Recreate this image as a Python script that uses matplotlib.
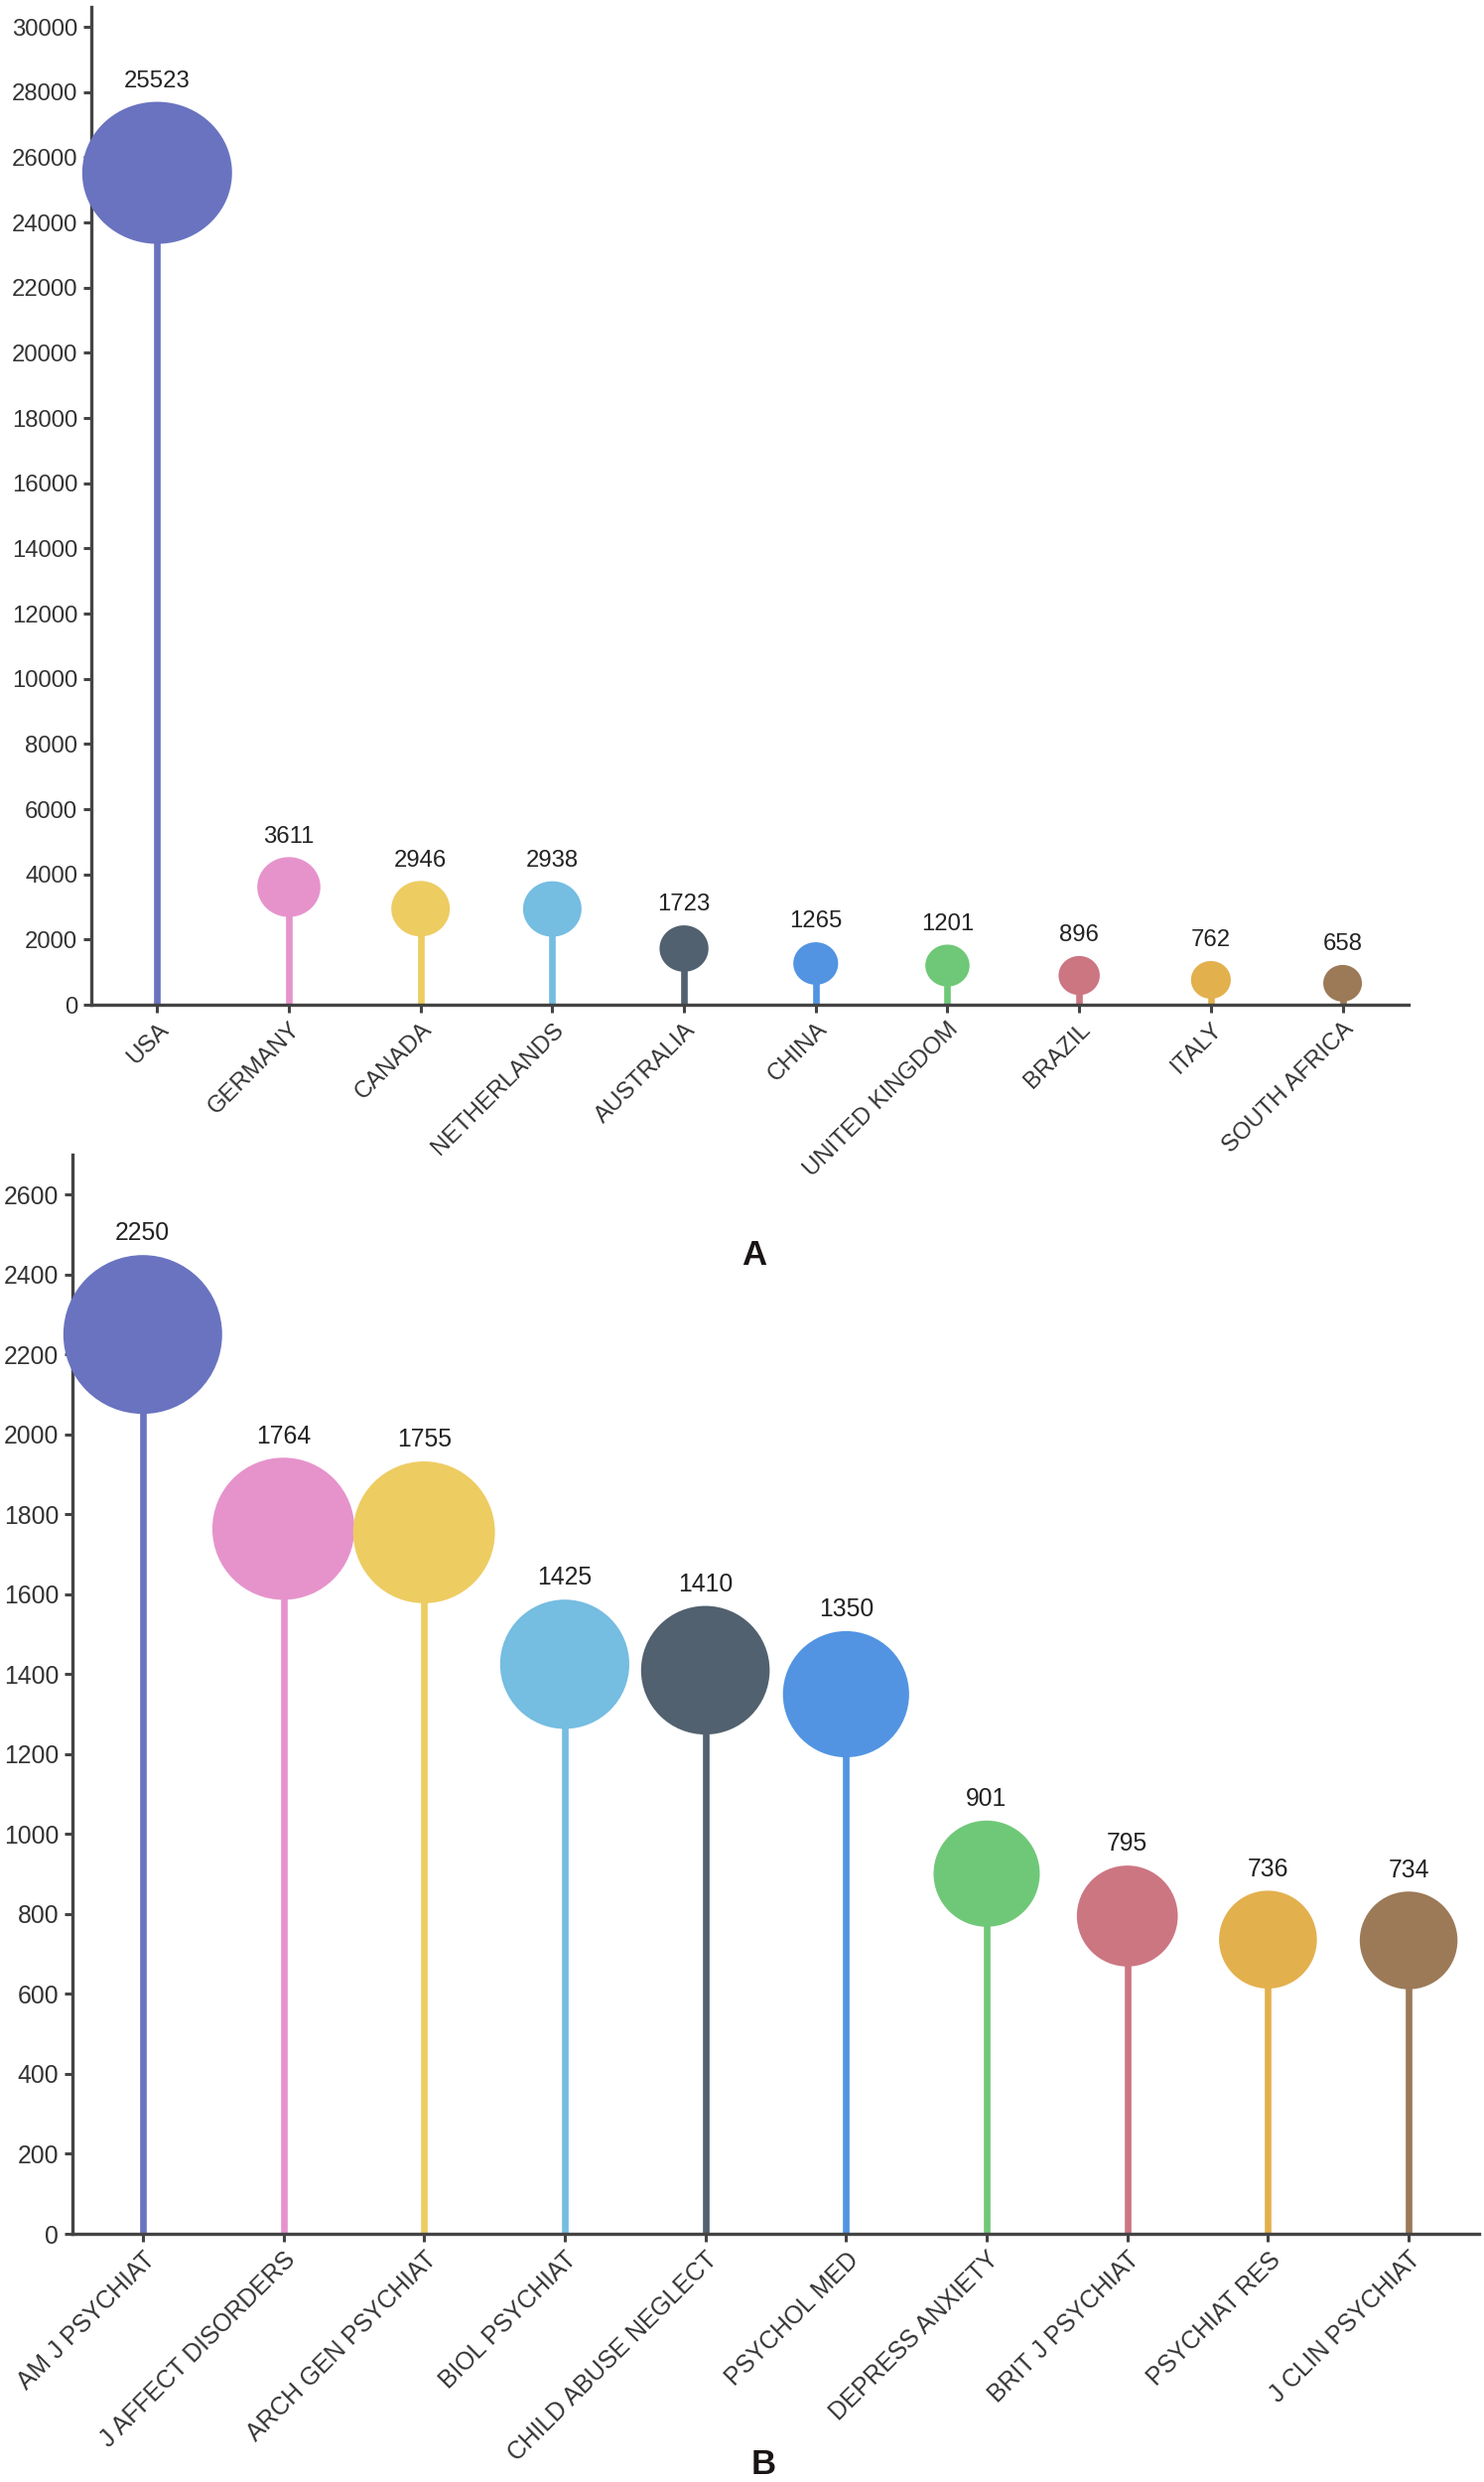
import numpy as np
import matplotlib
matplotlib.use("Agg")
import matplotlib.pyplot as plt
from matplotlib.path import Path

plt.rcParams['font.family'] = ['Liberation Sans', 'DejaVu Sans']

# ---------------- data ----------------
countries = ["USA", "GERMANY", "CANADA", "NETHERLANDS", "AUSTRALIA", "CHINA",
             "UNITED KINGDOM", "BRAZIL", "ITALY", "SOUTH AFRICA"]
country_counts = [25523, 3611, 2946, 2938, 1723, 1265, 1201, 896, 762, 658]

journals = ["AM J PSYCHIAT", "J AFFECT DISORDERS", "ARCH GEN PSYCHIAT", "BIOL PSYCHIAT",
            "CHILD ABUSE NEGLECT", "PSYCHOL MED", "DEPRESS ANXIETY", "BRIT J PSYCHIAT",
            "PSYCHIAT RES", "J CLIN PSYCHIAT"]
journal_counts = [2250, 1764, 1755, 1425, 1410, 1350, 901, 795, 736, 734]

yticks_a = list(range(0, 30001, 2000))
yticks_b = list(range(0, 2601, 200))

colors = ["#6973c0", "#e693cc", "#edcc62", "#75bde1", "#52616f",
          "#5294e2", "#6fc878", "#cc7682", "#e3b04e", "#9c7a58"]

# ---------------- style ----------------
SPINE = "#444444"
TXT = "#333333"

fig = plt.figure(figsize=(14.95, 25), dpi=100)
axA = fig.add_axes([0.0615, 0.5952, 0.8876, 0.4022])
axB = fig.add_axes([0.0488, 0.1000, 0.9478, 0.4348])

# slightly wide ellipse marker for panel A
t = np.linspace(0, 2 * np.pi, 100)
ell_verts = np.column_stack([1.055 * np.cos(t), np.sin(t)])
ellipse_marker = Path(ell_verts, closed=True)


def size_map(vals, smin, smax):
    vals = np.asarray(vals, dtype=float)
    return smin + (vals - vals.min()) / (vals.max() - vals.min()) * (smax - smin)


def draw(ax, cats, vals, sizes, marker, hscale, yticks, fs):
    x = np.arange(len(cats))
    for i, v in enumerate(vals):
        ax.plot([x[i], x[i]], [0, v], color=colors[i], lw=4.8,
                solid_capstyle='butt', zorder=2)
    ax.scatter(x, vals, s=sizes, c=colors, marker=marker, linewidths=0,
               zorder=5, clip_on=False)
    for i, v in enumerate(vals):
        half = np.sqrt(sizes[i]) / 2.0 / hscale
        ax.annotate(str(v), (x[i], v), xytext=(0, half + 7),
                    textcoords='offset points', ha='center', va='bottom',
                    fontsize=fs, color="#222222", zorder=6)
    ax.set_xlim(-0.5, len(cats) - 0.5)
    ax.set_ylim(0, max(vals) * 1.2)
    ax.set_xticks(x)
    ax.set_xticklabels(cats, rotation=45, ha='right', rotation_mode='anchor',
                       fontsize=fs, color=TXT)
    ax.set_yticks(yticks)
    ax.set_yticklabels([str(v) for v in yticks], fontsize=fs, color=TXT)
    for side in ['top', 'right']:
        ax.spines[side].set_visible(False)
    for side in ['left', 'bottom']:
        ax.spines[side].set_color(SPINE)
        ax.spines[side].set_linewidth(2.4)
    ax.tick_params(axis='both', colors=SPINE, width=2.2, length=6, pad=4,
                   labelcolor=TXT)
    ax.patch.set_visible(False)


sizesA = size_map(country_counts, 788, 11818)
sizesB = size_map(journal_counts, 5028, 13270)

draw(axA, countries, country_counts, sizesA, ellipse_marker, 1.055, yticks_a, 17.2)
draw(axB, journals, journal_counts, sizesB, 'o', 1.0, yticks_b, 17.8)

fig.text(760 / 1495, 1 - 1264 / 2500, "A", fontsize=25, fontweight='bold',
         ha='center', va='center', color="#1a1414")
fig.text(769 / 1495, 1 - 2483 / 2500, "B", fontsize=25, fontweight='bold',
         ha='center', va='center', color="#1a1414")

fig.savefig("out.png", dpi=100, facecolor='white')
